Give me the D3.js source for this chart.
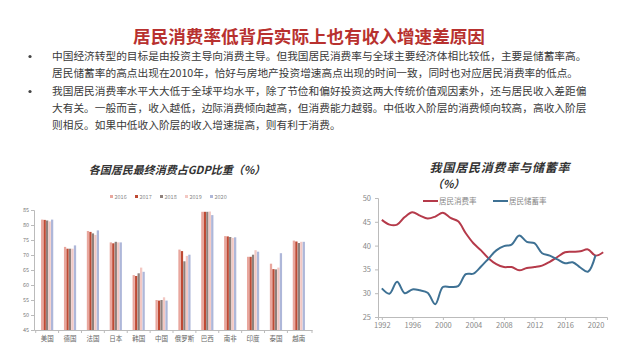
<!DOCTYPE html>
<html><head><meta charset="utf-8">
<script src="https://cdn.jsdelivr.net/npm/d3@7/dist/d3.min.js"></script>
<style>
html,body{margin:0;padding:0;background:#fff;}
svg{display:block;}
</style></head>
<body>
<svg id="c" width="628" height="352"></svg>
<script>
// ---------- data ----------
const pageTitle = "居民消费率低背后实际上也有收入增速差原因";
const bulletLines = [
  ["中国经济转型的目标是由投资主导向消费主导。但我国居民消费率与全球主要经济体相比较低，主要是储蓄率高。",
   "居民储蓄率的高点出现在2010年，恰好与房地产投资增速高点出现的时间一致，同时也对应居民消费率的低点。"],
  ["我国居民消费率水平大大低于全球平均水平，除了节俭和偏好投资这两大传统价值观因素外，还与居民收入差距偏",
   "大有关。一般而言，收入越低，边际消费倾向越高，但消费能力越弱。中低收入阶层的消费倾向较高，高收入阶层",
   "则相反。如果中低收入阶层的收入增速提高，则有利于消费。"]
];

const barTitle = "各国居民最终消费占GDP比重（%）";
const countries = ["美国","德国","法国","日本","韩国","中国","俄罗斯","巴西","南非","印度","泰国","越南"];
const barYears = ["2016","2017","2018","2019","2020"];
const v2016 = [81.8, 72.7, 78.0, 74.2, 63.3, 55.0, 71.8, 84.4, 76.3, 69.4, 67.1, 74.8];
const v2017 = [81.7, 72.1, 77.7, 73.9, 63.0, 54.8, 71.3, 84.4, 76.2, 69.4, 65.3, 74.5];
const v2018 = [81.5, 72.1, 77.2, 74.4, 63.9, 55.0, 67.9, 84.4, 76.0, 70.1, 65.2, 74.0];
const v2019 = [81.2, 72.1, 76.7, 74.2, 65.8, 55.9, 69.7, 84.5, 75.7, 71.6, 65.8, 74.4];
const v2020 = [81.8, 73.2, 78.2, 74.2, 64.4, 54.8, 70.1, 83.3, 75.9, 71.1, 70.6, 74.4];
const barTicks = [45,50,55,60,65,70,75,80,85];

const lineTitle = "我国居民消费率与储蓄率";
const lineUnit = "（%）";
const lineYears = d3.range(1992, 2022);
const consumptionRate = [45.4,44.4,44.4,46.0,47.0,46.3,45.7,46.1,46.9,45.8,45.1,42.6,40.5,39.0,37.3,36.1,35.5,35.5,34.8,35.3,35.5,35.8,36.6,37.6,38.6,38.7,38.8,39.2,37.9,38.6];
const savingRate = [31.0,29.9,32.4,30.0,30.8,30.6,30.1,27.7,31.3,31.3,31.5,34.0,34.1,35.6,37.3,39.0,39.9,40.2,42.1,40.8,40.5,38.4,37.9,37.1,36.3,36.5,35.4,34.5,38.0];
const seriesNames = ["居民消费率","居民储蓄率"];
const lineTicksY = [25,30,35,40,45,50];
const lineTicksX = [1992,1996,2000,2004,2008,2012,2016,2020];

// ---------- drawing ----------
const svg = d3.select("#c");
const FONT = "'Noto Sans CJK SC','Noto Sans',sans-serif";

// title
svg.append("text").attr("x", 309).attr("y", 43).attr("text-anchor","middle")
  .attr("font-family", FONT).attr("font-weight", 700).attr("font-size", 17.6)
  .attr("fill", "#B8312F").text(pageTitle);

// bullets
const lineYs = [[60, 77],[95, 112, 129]];
bulletLines.forEach((grp, gi) => {
  svg.append("circle").attr("cx", 30).attr("cy", lineYs[gi][0]-3.5).attr("r", 1.6).attr("fill","#444");
  grp.forEach((t, li) => {
    svg.append("text").attr("x", 52).attr("y", lineYs[gi][li])
      .attr("font-family", FONT).attr("font-size", 10.7).attr("fill", "#3a3a3a").text(t);
  });
});

// ---------- bar chart ----------
const barColors = ["#E9A79E","#BE4A34","#8F817C","#F3C8C3","#AEB7D9"];
const barSeries = [v2016, v2017, v2018, v2019, v2020];
const x0 = d3.scaleBand().domain(countries).range([34, 312]).paddingInner(0.45).paddingOuter(0.3);
const x1 = d3.scaleBand().domain(barYears).range([0, x0.bandwidth()]).padding(0.08);
const yb = d3.scaleLinear().domain([45, 85]).range([330, 210]);

svg.append("text").attr("x", 177).attr("y", 174).attr("text-anchor","middle")
  .attr("font-family", FONT).attr("font-size", 11).attr("font-style","italic").attr("font-weight",700)
  .attr("fill","#333").text(barTitle);

// legend
const lgX = [110, 135, 160, 185, 210];
barYears.forEach((yr, i) => {
  svg.append("rect").attr("x", lgX[i]).attr("y", 195).attr("width", 3).attr("height", 3).attr("fill", barColors[i]);
  svg.append("text").attr("x", lgX[i]+4.5).attr("y", 198.5).attr("font-family", FONT)
    .attr("font-size", 5.5).attr("fill", "#888").text(yr);
});

const gb = svg.append("g");
countries.forEach((c, ci) => {
  barSeries.forEach((s, si) => {
    gb.append("rect").attr("x", x0(c) + x1(barYears[si])).attr("y", yb(s[ci]))
      .attr("width", x1.bandwidth()).attr("height", yb(45) - yb(s[ci])).attr("fill", barColors[si]);
  });
});

const yAxB = svg.append("g").attr("transform","translate(34,0)")
  .call(d3.axisLeft(yb).tickValues(barTicks).tickSize(3).tickPadding(2));
yAxB.select(".domain").attr("stroke","#bbb");
yAxB.selectAll(".tick line").attr("stroke","#bbb");
yAxB.selectAll("text").attr("font-family", FONT).attr("font-size", 5.5).attr("fill","#777");

const xAxB = svg.append("g").attr("transform","translate(0,330)")
  .call(d3.axisBottom(x0).tickSize(0).tickPadding(6));
xAxB.select(".domain").attr("stroke","#bbb");
xAxB.selectAll("text").attr("font-family", FONT).attr("font-size", 6.5).attr("fill","#666");
// category separators
countries.forEach(c => {
  const xx = x0(c) - x0.step()*x0.paddingInner()/2;
  svg.append("line").attr("x1", xx).attr("x2", xx).attr("y1", 330).attr("y2", 333).attr("stroke","#bbb");
});
svg.append("line").attr("x1", 312).attr("x2", 312).attr("y1", 330).attr("y2", 333).attr("stroke","#bbb");

// ---------- line chart ----------
const xl = d3.scalePoint().domain(lineYears).range([378, 607]).padding(0.5);
const yl = d3.scaleLinear().domain([25, 50]).range([317, 198]);

svg.append("text").attr("x", 500).attr("y", 172).attr("text-anchor","middle")
  .attr("font-family", FONT).attr("font-size", 12).attr("font-style","italic").attr("font-weight",700)
  .attr("letter-spacing", 0.8).attr("fill","#333").text(lineTitle);
svg.append("text").attr("x", 432).attr("y", 188)
  .attr("font-family", FONT).attr("font-size", 11).attr("font-style","italic").attr("font-weight",700)
  .attr("fill","#333").text(lineUnit);

const yAxL = svg.append("g").attr("transform","translate(378,0)")
  .call(d3.axisLeft(yl).tickValues(lineTicksY).tickSize(3).tickPadding(4));
yAxL.select(".domain").attr("stroke","#bbb");
yAxL.selectAll(".tick line").attr("stroke","#bbb");
yAxL.selectAll("text").attr("font-family", FONT).attr("font-size", 7.5).attr("fill","#888");

const xAxL = svg.append("g").attr("transform","translate(0,317)")
  .call(d3.axisBottom(xl).tickValues(lineTicksX).tickSize(3).tickPadding(3));
xAxL.select(".domain").attr("stroke","#bbb");
xAxL.selectAll(".tick line").attr("stroke","#bbb");
xAxL.selectAll("text").attr("font-family", FONT).attr("font-size", 7.5).attr("fill","#888");

const lineColors = ["#B53A4A","#3E7194"];
const lineGen = d3.line().x(d => xl(d[0])).y(d => yl(d[1])).curve(d3.curveCatmullRom.alpha(0.5));
[consumptionRate, savingRate].forEach((s, i) => {
  const pts = s.map((v, k) => [lineYears[k], v]);
  svg.append("path").attr("d", lineGen(pts)).attr("fill","none")
    .attr("stroke", lineColors[i]).attr("stroke-width", 2);
});

// legend
const llX = [423, 493];
seriesNames.forEach((n, i) => {
  svg.append("line").attr("x1", llX[i]).attr("x2", llX[i]+15).attr("y1", 201).attr("y2", 201)
    .attr("stroke", lineColors[i]).attr("stroke-width", 2);
  svg.append("text").attr("x", llX[i]+16).attr("y", 204).attr("font-family", FONT)
    .attr("font-size", 7.5).attr("fill","#888").text(n);
});
</script>
</body></html>
